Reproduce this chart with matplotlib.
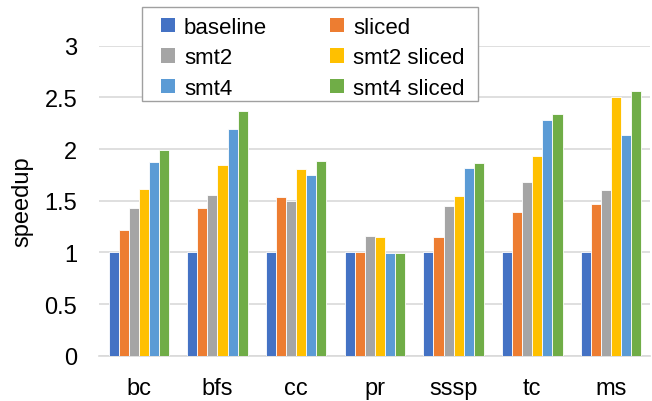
import numpy as np
import matplotlib.pyplot as plt
from matplotlib.patches import Rectangle

plt.rcParams['font.family'] = ['Liberation Sans', 'DejaVu Sans']

benchmarks = ['bc', 'bfs', 'cc', 'pr', 'sssp', 'tc', 'ms']
series_names = ['baseline', 'sliced', 'smt2', 'smt2 sliced', 'smt4', 'smt4 sliced']

baseline = [1.0, 1.0, 1.0, 1.0, 1.0, 1.0, 1.0]
sliced = [1.22, 1.43, 1.54, 1.0, 1.15, 1.39, 1.47]
smt2 = [1.43, 1.56, 1.50, 1.16, 1.45, 1.68, 1.60]
smt2_sliced = [1.61, 1.85, 1.81, 1.15, 1.55, 1.93, 2.50]
smt4 = [1.87, 2.19, 1.75, 0.99, 1.82, 2.28, 2.14]
smt4_sliced = [1.99, 2.37, 1.88, 0.99, 1.86, 2.34, 2.56]

colors = ['#4472C4', '#ED7D31', '#A5A5A5', '#FFC000', '#5B9BD5', '#70AD47']

W, H = 652, 402
fig = plt.figure(figsize=(W / 100, H / 100), dpi=100)
ax = fig.add_axes([0.1525, 0.1125, 0.845, 0.7715])

x = np.arange(len(benchmarks))
width = 0.128
all_series = [baseline, sliced, smt2, smt2_sliced, smt4, smt4_sliced]
bars = []
for i, (vals, name, c) in enumerate(zip(all_series, series_names, colors)):
    offset = (i - 2.5) * width
    b = ax.bar(x + offset, vals, width, color=c, label=name,
               edgecolor='white', linewidth=0.6, zorder=3)
    bars.append(b)

ax.set_xlim(-0.5, len(benchmarks) - 0.5)
ax.set_ylim(0, 3)
ax.set_yticks(np.arange(0, 3.01, 0.5))
ax.set_yticklabels(['0', '0.5', '1', '1.5', '2', '2.5', '3'])
ax.set_xticks(x)
ax.set_xticklabels(benchmarks)
ax.tick_params(axis='both', length=0, labelsize=17)
ax.tick_params(axis='y', pad=16)
ax.tick_params(axis='x', pad=15)
ax.grid(axis='y', color='#D9D9D9', linewidth=1.2, zorder=0)
for s in ['top', 'right', 'left']:
    ax.spines[s].set_visible(False)
ax.spines['bottom'].set_color('#D9D9D9')
ax.spines['bottom'].set_linewidth(1.2)
ax.set_ylabel('speedup', fontsize=17, labelpad=8)

# legend box: drawn by hand so the padding can differ per side
box = Rectangle((142 / W, 1 - 102 / H), 336 / W, 94 / H,
                transform=fig.transFigure, facecolor='white',
                edgecolor='#A0A0A0', linewidth=1.0, zorder=2)
fig.patches.append(box)

# legend filled row by row: two entries per row
order = [0, 2, 4, 1, 3, 5]
leg = fig.legend([bars[i] for i in order], [series_names[i] for i in order],
                 loc='upper left', bbox_to_anchor=(161 / W, 1 - 18 / H),
                 ncol=2, fontsize=16, frameon=False,
                 handlelength=0.63, handleheight=0.63, handletextpad=0.4,
                 columnspacing=2.85, labelspacing=0.42, borderpad=0,
                 borderaxespad=0)
leg.set_zorder(3)
for h in leg.legend_handles:
    h.set_edgecolor('none')

fig.savefig('out.png', dpi=100)
